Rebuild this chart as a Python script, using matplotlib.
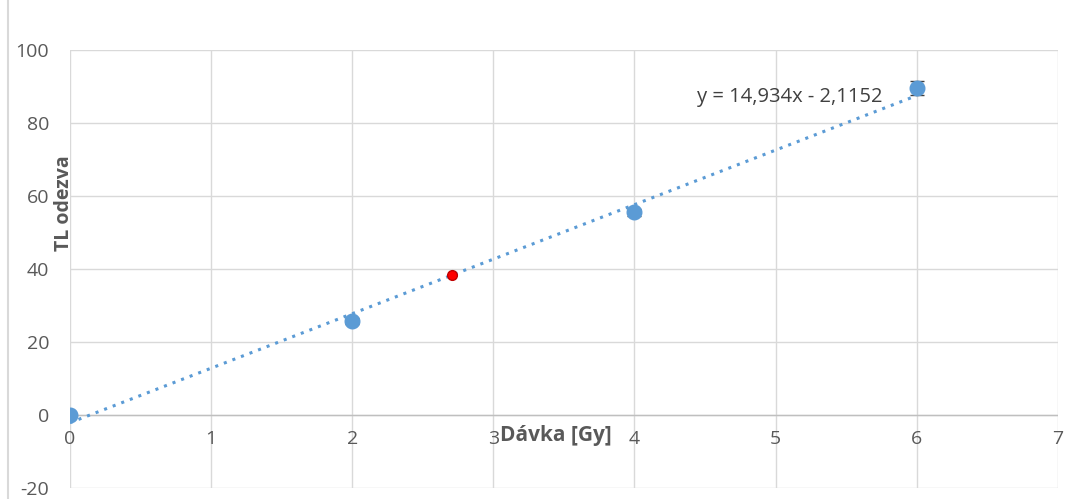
import matplotlib.pyplot as plt
import numpy as np
from matplotlib.lines import Line2D

plt.rcParams['font.family'] = ['Open Sans', 'DejaVu Sans']
plt.rcParams['axes.unicode_minus'] = False

# measured points
davka = [0, 2, 4, 6]
odezva = [0.0, 25.8, 55.5, 89.6]
chyba = [0.5, 0.8, 1.0, 2.0]

# interpolated unknown sample
x_vzorek = [2.71]
y_vzorek = [38.35]

# linear fit
k, q = 14.934, -2.1152
xticks = [0, 1, 2, 3, 4, 5, 6, 7]
yticks = [-20, 0, 20, 40, 60, 80, 100]

fig = plt.figure(figsize=(10.68, 4.99), dpi=100)
ax = fig.add_axes([0.0655, 0.022, 0.925, 0.878])

blue = '#5B9BD5'
grey = '#595959'

ax.set_xlim(0, 7)
ax.set_ylim(-20, 100)
ax.set_xticks(xticks)
ax.set_yticks(yticks)
ax.grid(True, color='#D9D9D9', linewidth=1)
ax.set_axisbelow(True)
for s in ax.spines.values():
    s.set_visible(False)
ax.axhline(0, color='#BFBFBF', linewidth=1, zorder=1)
ax.tick_params(length=0, labelsize=14, labelcolor=grey)
ax.tick_params(axis='y', pad=15)
ax.set_xticklabels([])

for t in xticks:
    ax.text(t, -4.0, str(t), ha='center', va='top', fontsize=14, color=grey)

xf = np.array([0, 6])
ax.plot(xf, k * xf + q, color=blue, linestyle=(0, (1, 2)), linewidth=2.2, zorder=2)

ax.errorbar(davka, odezva, yerr=chyba, fmt='o', color=blue, markersize=10.5,
            ecolor='#404040', elinewidth=1, capsize=5, zorder=3)
ax.plot(x_vzorek, y_vzorek, 'o', color='#FF0000', markeredgecolor='#C00000',
        markersize=7, zorder=4)

ax.text(4.44, 87, 'y = 14,934x - 2,1152', ha='left', va='center', fontsize=14.5, color='#404040')
ax.text(3.44, -5.5, 'Dávka [Gy]', ha='center', va='center', fontsize=15,
        fontweight='bold', color=grey)
ax.text(-0.045, 58, 'TL odezva', ha='center', va='center', rotation=90, fontsize=14,
        fontweight='bold', color=grey)

fig.add_artist(Line2D([0.0075, 0.0075], [0, 1], color='#D9D9D9', linewidth=1.5,
                      transform=fig.transFigure))

fig.savefig('out.png', dpi=100)
